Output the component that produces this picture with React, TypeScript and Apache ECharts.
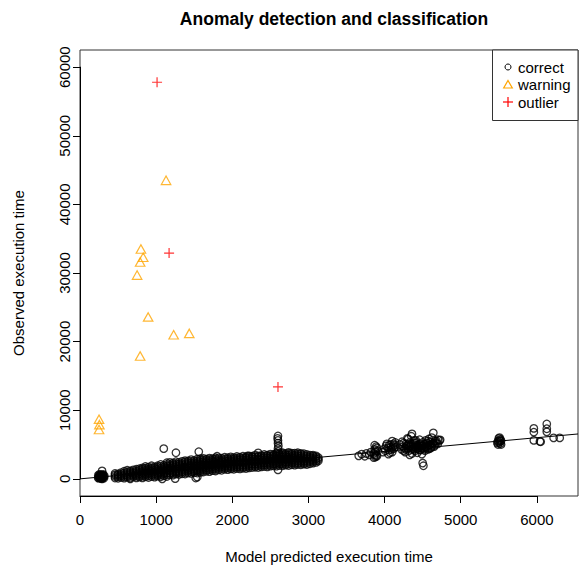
import React, { useEffect, useRef } from "react";
import * as echarts from "echarts";

const chartTitle = "Anomaly detection and classification";
const xTitle = "Model predicted execution time";
const yTitle = "Observed execution time";
const seriesNames = ["correct", "warning", "outlier"];
const seriesColors = ["#000000", "#FFA500", "#FF0000"];
const xTicks = [0, 1000, 2000, 3000, 4000, 5000, 6000];
const yTicks = [0, 10000, 20000, 30000, 40000, 50000, 60000];
const xRange = [0, 6540];
const yRange = [-2500, 62500];
const fitLine = [
  [0, 0],
  [6540, 6540],
];

// dense band of "correct" points, read column by column: [x, [y...]]
const bandColumns: [number, number[]][] = [
  [460, [120, 350, 580, 780]],
  [500, [80, 300, 520, 720]],
  [540, [200, 420, 650, 900]],
  [580, [100, 350, 600, 850, 1100]],
  [620, [250, 500, 750, 1000, 1250]],
  [660, [120, 380, 640, 900, 1150]],
  [700, [300, 550, 800, 1050, 1300]],
  [740, [150, 400, 650, 900, 1150, 1400]],
  [780, [250, 500, 750, 1000, 1250, 1480]],
  [820, [150, 400, 650, 900, 1150, 1400, 1600]],
  [860, [300, 550, 800, 1050, 1300, 1550, 1800]],
  [900, [200, 450, 700, 950, 1200, 1450, 1700]],
  [940, [350, 600, 850, 1100, 1350, 1600, 1900]],
  [980, [250, 500, 750, 1000, 1250, 1500, 1750]],
  [1020, [400, 650, 900, 1150, 1400, 1650, 1900]],
  [1060, [300, 550, 800, 1050, 1300, 1550, 1800, 2100]],
  [1100, [450, 700, 950, 1200, 1450, 1700, 1950]],
  [1140, [350, 600, 850, 1100, 1350, 1600, 1850, 2100, 2350]],
  [1180, [600, 850, 1100, 1350, 1600, 1850, 2100, 2400]],
  [1220, [550, 800, 1050, 1300, 1550, 1800, 2050, 2300]],
  [1260, [700, 950, 1200, 1450, 1700, 1950, 2200, 2500]],
  [1300, [650, 900, 1150, 1400, 1650, 1900, 2150, 2400]],
  [1340, [750, 1000, 1250, 1500, 1750, 2000, 2250, 2550]],
  [1380, [700, 950, 1200, 1450, 1700, 1950, 2200, 2450, 2650]],
  [1420, [850, 1100, 1350, 1600, 1850, 2100, 2350, 2600]],
  [1460, [800, 1050, 1300, 1550, 1800, 2050, 2300, 2550, 2800]],
  [1500, [900, 1150, 1400, 1650, 1900, 2150, 2400, 2650]],
  [1540, [850, 1100, 1350, 1600, 1850, 2100, 2350, 2600, 2880]],
  [1580, [950, 1200, 1450, 1700, 1950, 2200, 2450, 2700, 2950]],
  [1620, [1000, 1250, 1500, 1750, 2000, 2250, 2500, 2750, 2980]],
  [1660, [1100, 1350, 1600, 1850, 2100, 2350, 2600, 2850]],
  [1700, [1050, 1300, 1550, 1800, 2050, 2300, 2550, 2800, 3020]],
  [1740, [1200, 1450, 1700, 1950, 2200, 2450, 2700, 2950]],
  [1780, [1150, 1400, 1650, 1900, 2150, 2400, 2650, 2900, 3080]],
  [1820, [1300, 1550, 1800, 2050, 2300, 2550, 2800, 3050]],
  [1860, [1250, 1500, 1750, 2000, 2250, 2500, 2750, 3000]],
  [1900, [1400, 1650, 1900, 2150, 2400, 2650, 2900, 3150]],
  [1940, [1350, 1600, 1850, 2100, 2350, 2600, 2850, 3080]],
  [1980, [1450, 1700, 1950, 2200, 2450, 2700, 2950, 3200]],
  [2020, [1400, 1650, 1900, 2150, 2400, 2650, 2900, 3100]],
  [2060, [1500, 1750, 2000, 2250, 2500, 2750, 3000, 3250]],
  [2100, [1450, 1700, 1950, 2200, 2450, 2700, 2950, 3150]],
  [2140, [1550, 1800, 2050, 2300, 2550, 2800, 3050, 3300]],
  [2180, [1500, 1750, 2000, 2250, 2500, 2750, 3000, 3200]],
  [2220, [1600, 1850, 2100, 2350, 2600, 2850, 3100, 3350]],
  [2260, [1650, 1900, 2150, 2400, 2650, 2900, 3150, 3300]],
  [2300, [1700, 1950, 2200, 2450, 2700, 2950, 3200, 3450]],
  [2340, [1650, 1900, 2150, 2400, 2650, 2900, 3150, 3350, 3780]],
  [2380, [1750, 2000, 2250, 2500, 2750, 3000, 3250, 3400]],
  [2420, [1800, 2050, 2300, 2550, 2800, 3050, 3300, 3550]],
  [2460, [1750, 2000, 2250, 2500, 2750, 3000, 3250, 3450]],
  [2500, [1850, 2100, 2350, 2600, 2850, 3100, 3350, 3600]],
  [2540, [1900, 2150, 2400, 2650, 2900, 3150, 3400, 3550]],
  [2580, [1850, 2100, 2350, 2600, 2850, 3100, 3350, 3600, 3750]],
  [2620, [1950, 2200, 2450, 2700, 2950, 3200, 3450, 3650]],
  [2660, [1900, 2150, 2400, 2650, 2900, 3150, 3400, 3650, 3800]],
  [2700, [2000, 2250, 2500, 2750, 3000, 3250, 3500, 3700]],
  [2740, [1950, 2200, 2450, 2700, 2950, 3200, 3450, 3700, 3850]],
  [2780, [2050, 2300, 2550, 2800, 3050, 3300, 3550, 3750]],
  [2820, [2000, 2250, 2500, 2750, 3000, 3250, 3500, 3750]],
  [2860, [2100, 2350, 2600, 2850, 3100, 3350, 3600, 3800]],
  [2900, [2050, 2300, 2550, 2800, 3050, 3300, 3550, 3700]],
  [2940, [2150, 2400, 2650, 2900, 3150, 3400, 3650]],
  [2980, [2100, 2350, 2600, 2850, 3100, 3350, 3550]],
  [3020, [2200, 2450, 2700, 2950, 3200, 3450]],
  [3060, [2300, 2550, 2800, 3050, 3300, 3450]],
  [3100, [2400, 2650, 2900, 3150, 3350]],
  [3130, [2600, 2850, 3100]],
];

// other "correct" points: small-x blob, scattered ones, the x≈2600 stack and right-hand clusters
const correctOther: number[][] = [
  [240, 100], [250, 400], [260, 200], [270, 600], [280, 50], [285, 350], [295, 520],
  [300, 150], [310, 300], [255, 650], [275, 250], [320, 420], [290, 1160],
  [245, 150], [265, 450], [300, 550], [315, 100], [240, 500], [290, 0], [305, 650],
  [250, 250], [270, 100], [280, 500], [295, 300], [260, 350],
  [1100, 4400], [1260, 3800], [1560, 3950], [660, 0], [1080, 0], [1250, 30],
  [1540, 250], [1520, 120], [1800, 3300], [2200, 3350],
  [2600, 4000], [2600, 4400], [2605, 4800], [2600, 5200], [2600, 5600], [2595, 5900],
  [2600, 6250], [2600, 1300],
  [3660, 3350], [3700, 3600], [3740, 3300], [3760, 3700], [3800, 3500], [3820, 3900],
  [3860, 3100], [3870, 3500], [3880, 3900], [3870, 4300], [3890, 4700], [3900, 3300],
  [3910, 4100], [3860, 3700], [3880, 4100], [3890, 3400], [3900, 4500], [3870, 4900],
  [3880, 3200],
  [3980, 3900], [4000, 4400], [4020, 4800], [4050, 3600], [4060, 4200], [4080, 4600],
  [4080, 5000], [4100, 3900], [4120, 4400], [4130, 4900], [4140, 5300], [4030, 5100],
  [4010, 4100], [4040, 4500], [4070, 3800], [4090, 4300], [4110, 4700], [4120, 5100],
  [4060, 4900], [4100, 5500], [4140, 4600],
  [4200, 5000], [4220, 4300], [4240, 4700], [4230, 5400], [4270, 3900], [4280, 5100],
  [4300, 4500], [4310, 5800], [4320, 4100], [4330, 5300], [4340, 4800], [4350, 6200],
  [4360, 3700], [4370, 4400], [4380, 5000], [4390, 5600], [4400, 4100], [4410, 4700],
  [4420, 5300], [4430, 3800], [4440, 4400], [4450, 5000], [4460, 5700], [4470, 4200],
  [4480, 4800], [4490, 3600], [4500, 5300], [4510, 4500], [4520, 5000], [4530, 4100],
  [4540, 5600], [4550, 4700], [4560, 5200], [4570, 4300], [4580, 5800], [4590, 4900],
  [4600, 5400], [4610, 4500], [4620, 6000], [4630, 5100], [4640, 6700], [4650, 4700],
  [4660, 5500], [4680, 5200], [4700, 5700], [4730, 5680], [4360, 6550], [4300, 5900],
  [4250, 4100], [4330, 3500], [4500, 2300], [4510, 1900],
  [4260, 4500], [4280, 4300], [4290, 4800], [4310, 5000], [4320, 4600], [4350, 4300],
  [4350, 5100], [4370, 4700], [4390, 4300], [4400, 5200], [4420, 4400], [4430, 4900],
  [4450, 4600], [4460, 4200], [4470, 5100], [4490, 4400], [4500, 4800], [4520, 4300],
  [4530, 4700], [4540, 5100], [4560, 4500], [4570, 4900], [4590, 4400], [4600, 5000],
  [4620, 4700], [4640, 5200], [4660, 4900], [4680, 5500], [4700, 5100], [4720, 5600],
  [4250, 5200], [4410, 5600], [4570, 5500],
  [5490, 5000], [5500, 5300], [5510, 5600], [5500, 5900], [5520, 5150], [5520, 5450],
  [5520, 5750], [5530, 5000], [5490, 5500], [5510, 6000], [5530, 5550], [5480, 5250],
  [5960, 7350], [5960, 6800], [5960, 5600], [6050, 5400], [6040, 5450], [6130, 8000],
  [6130, 7300], [6130, 6850], [6220, 5970], [6300, 5970],
];

const warningPoints: number[][] = [
  [250, 8700], [255, 7900], [250, 7200], [750, 29700], [790, 31600], [830, 32300],
  [800, 33500], [1130, 43500], [895, 23600], [1230, 21000], [1435, 21200], [790, 17900],
];

const outlierPoints: number[][] = [
  [1012, 57800], [1170, 32900], [2600, 13400],
];

const W = 581;
const H = 567;
const plot = { left: 80, right: 578, top: 50, bottom: 496 };
const FONT = "'Liberation Sans', Arial, Helvetica, sans-serif";
const FS = 15;

export default function App() {
  const ref = useRef<HTMLDivElement>(null);

  useEffect(() => {
    document.body.style.margin = "0";
    if (!ref.current) return;
    const chart = echarts.init(ref.current, null, { renderer: "svg", width: W, height: H });

    const pw = plot.right - plot.left;
    const ph = plot.bottom - plot.top;
    const xpx = (v: number) => plot.left + ((v - xRange[0]) / (xRange[1] - xRange[0])) * pw;
    const ypx = (v: number) => plot.bottom - ((v - yRange[0]) / (yRange[1] - yRange[0])) * ph;

    const xT0 = xTicks[0];
    const xT1 = xTicks[xTicks.length - 1];
    const yT0 = yTicks[0];
    const yT1 = yTicks[yTicks.length - 1];

    const correctPoints: number[][] = [];
    bandColumns.forEach(([x, ys]) => ys.forEach((y) => correctPoints.push([x, y])));
    correctOther.forEach((p) => correctPoints.push(p));

    const legendRows = [67, 84.5, 102];
    const lx = 508;
    const plain = (v: number) => String(v);

    const option: any = {
      animation: false,
      backgroundColor: "#ffffff",
      title: {
        text: chartTitle,
        left: (plot.left + plot.right) / 2,
        top: 5,
        textAlign: "center",
        textStyle: { fontFamily: FONT, fontSize: 17.5, fontWeight: "bold", color: "#000" },
      },
      grid: [
        {
          left: plot.left,
          top: plot.top,
          width: pw,
          height: ph,
          show: true,
          borderColor: "#333",
          borderWidth: 1,
          backgroundColor: "transparent",
        },
        { left: xpx(xT0), top: plot.top, width: xpx(xT1) - xpx(xT0), height: ph },
        { left: plot.left, top: ypx(yT1), width: pw, height: ypx(yT0) - ypx(yT1) },
      ],
      xAxis: [
        { gridIndex: 0, type: "value", min: xRange[0], max: xRange[1], show: false },
        {
          gridIndex: 1,
          type: "value",
          min: xT0,
          max: xT1,
          interval: xTicks[1] - xTicks[0],
          axisLine: { show: true, onZero: false, lineStyle: { color: "#000", width: 1 } },
          axisTick: { show: true, length: 7, lineStyle: { color: "#000", width: 1 } },
          axisLabel: { margin: 16, fontSize: FS, color: "#000", fontFamily: FONT, formatter: plain },
          splitLine: { show: false },
        },
        { gridIndex: 2, type: "value", min: 0, max: 1, show: false },
      ],
      yAxis: [
        { gridIndex: 0, type: "value", min: yRange[0], max: yRange[1], show: false },
        { gridIndex: 1, type: "value", min: 0, max: 1, show: false },
        {
          gridIndex: 2,
          type: "value",
          min: yT0,
          max: yT1,
          interval: yTicks[1] - yTicks[0],
          axisLine: { show: true, onZero: false, lineStyle: { color: "#000", width: 1 } },
          axisTick: { show: true, length: 7, lineStyle: { color: "#000", width: 1 } },
          axisLabel: {
            margin: 8,
            fontSize: FS,
            color: "#000",
            fontFamily: FONT,
            rotate: 90,
            formatter: plain,
          },
          splitLine: { show: false },
        },
      ],
      series: [
        {
          name: seriesNames[0],
          type: "scatter",
          xAxisIndex: 0,
          yAxisIndex: 0,
          data: correctPoints,
          symbol: "circle",
          symbolSize: 7.5,
          itemStyle: { color: "rgba(0,0,0,0)", borderColor: seriesColors[0], borderWidth: 1.3 },
          silent: true,
        },
        {
          name: seriesNames[1],
          type: "scatter",
          xAxisIndex: 0,
          yAxisIndex: 0,
          data: warningPoints,
          symbol: "triangle",
          symbolSize: [9.5, 8.5],
          itemStyle: { color: "rgba(0,0,0,0)", borderColor: seriesColors[1], borderWidth: 1.2 },
          silent: true,
        },
        {
          name: seriesNames[2],
          type: "scatter",
          xAxisIndex: 0,
          yAxisIndex: 0,
          data: outlierPoints,
          symbol: "path://M0,5L10,5M5,0L5,10",
          symbolSize: 10,
          itemStyle: { color: "rgba(0,0,0,0)", borderColor: seriesColors[2], borderWidth: 1.2 },
          silent: true,
        },
        {
          name: "fit",
          type: "line",
          xAxisIndex: 0,
          yAxisIndex: 0,
          data: fitLine,
          showSymbol: false,
          symbol: "none",
          clip: true,
          lineStyle: { color: "#000", width: 1 },
          silent: true,
        },
      ],
      graphic: [
        {
          type: "text",
          x: (plot.left + plot.right) / 2,
          y: 556,
          style: {
            text: xTitle,
            align: "center",
            verticalAlign: "middle",
            font: `${FS}px ${FONT}`,
            fill: "#000",
          },
        },
        {
          type: "text",
          x: 18,
          y: (plot.top + plot.bottom) / 2,
          rotation: Math.PI / 2,
          style: {
            text: yTitle,
            align: "center",
            verticalAlign: "middle",
            font: `${FS}px ${FONT}`,
            fill: "#000",
          },
        },
        {
          type: "group",
          z: 100,
          children: [
            {
              type: "rect",
              shape: { x: 492.5, y: plot.top, width: plot.right - 492.5, height: 70.5 },
              style: { fill: "#fff", stroke: "#333", lineWidth: 1 },
            },
            {
              type: "circle",
              shape: { cx: lx, cy: legendRows[0], r: 3 },
              style: { fill: "none", stroke: seriesColors[0], lineWidth: 1 },
            },
            {
              type: "polygon",
              shape: {
                points: [
                  [lx, legendRows[1] - 4],
                  [lx + 4.3, legendRows[1] + 3.5],
                  [lx - 4.3, legendRows[1] + 3.5],
                ],
              },
              style: { fill: "none", stroke: seriesColors[1], lineWidth: 1.2 },
            },
            {
              type: "line",
              shape: { x1: lx - 5, y1: legendRows[2], x2: lx + 5, y2: legendRows[2] },
              style: { stroke: seriesColors[2], lineWidth: 1.2 },
            },
            {
              type: "line",
              shape: { x1: lx, y1: legendRows[2] - 5, x2: lx, y2: legendRows[2] + 5 },
              style: { stroke: seriesColors[2], lineWidth: 1.2 },
            },
            ...seriesNames.map((name, i) => ({
              type: "text",
              x: 518,
              y: legendRows[i],
              style: {
                text: name,
                align: "left",
                verticalAlign: "middle",
                font: `${FS}px ${FONT}`,
                fill: "#000",
              },
            })),
          ],
        },
      ],
    };

    chart.setOption(option);
    return () => chart.dispose();
  }, []);

  return (
    <div
      ref={ref}
      style={{ position: "fixed", left: 0, top: 0, width: W, height: H, background: "#fff" }}
    />
  );
}
